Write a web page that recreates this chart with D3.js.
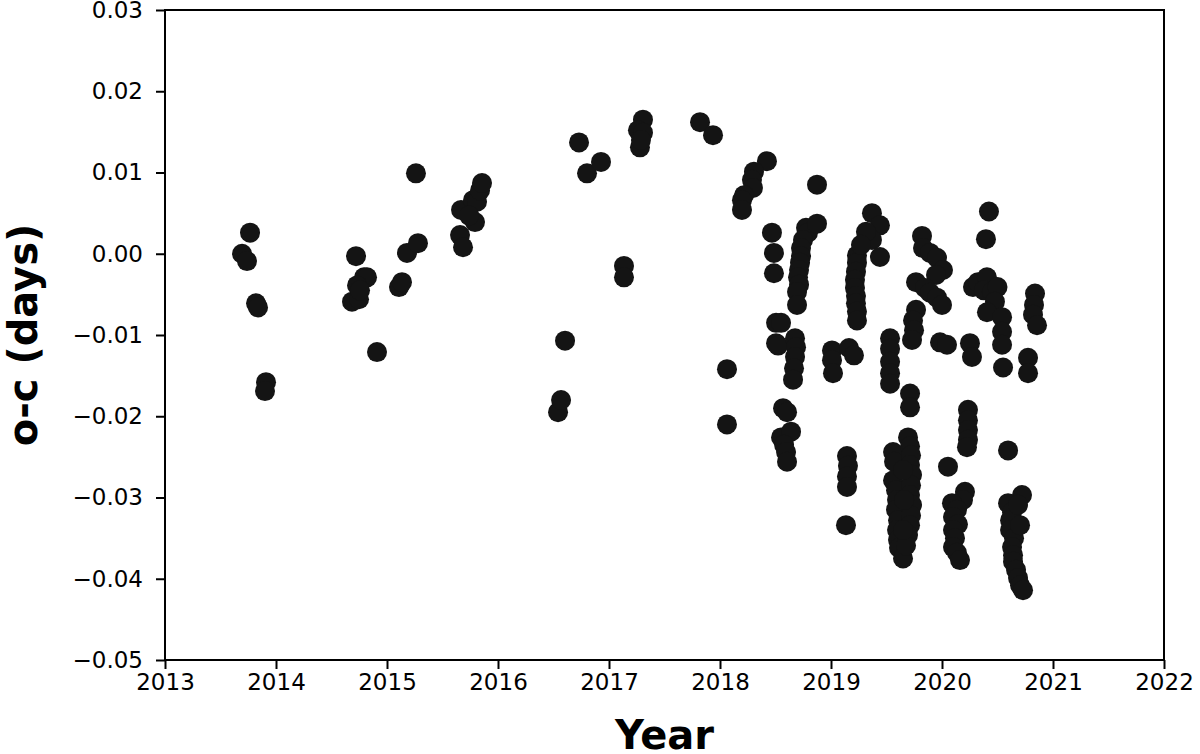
<!DOCTYPE html>
<html>
<head>
<meta charset="utf-8">
<script src="https://cdn.jsdelivr.net/npm/d3@7"></script>
<style>
  html, body { margin: 0; padding: 0; background: #fff; }
  svg { display: block; }
  text { font-family: "DejaVu Sans", sans-serif; }
</style>
</head>
<body>
<svg id="chart" width="1200" height="754"></svg>
<script>
// ---- data (decimal year, O-C in days) ----
const years = [
  2013.694, 2013.739, 2013.766, 2013.820, 2013.838, 2013.910, 2013.901,
  2014.721, 2014.793, 2014.820, 2014.730, 2014.685, 2014.748, 2014.757, 2014.910,
  2015.108, 2015.135, 2015.180, 2015.279, 2015.261,
  2015.667, 2015.775, 2015.811, 2015.838, 2015.856, 2015.793, 2015.658, 2015.685, 2015.740,
  2016.541, 2016.568, 2016.604, 2016.730, 2016.802, 2016.928, 2017.135, 2017.135,
  2017.306, 2017.261, 2017.306, 2017.279, 2017.288, 2017.820, 2017.937,
  2018.423, 2018.306, 2018.288, 2018.297, 2018.216, 2018.198, 2018.198, 2018.063, 2018.063,
  2018.468, 2018.486, 2018.486, 2018.505, 2018.550, 2018.505, 2018.523,
  2018.568, 2018.604, 2018.550, 2018.640, 2018.577, 2018.595, 2018.604,
  2018.775, 2018.793, 2018.748, 2018.730, 2018.730, 2018.721, 2018.712, 2018.703, 2018.712, 2018.694, 2018.694,
  2018.676, 2018.685, 2018.676, 2018.667, 2018.658, 2018.874, 2018.874,
  2019.009, 2019.009, 2019.018, 2019.162, 2019.207,
  2019.144, 2019.153, 2019.144, 2019.144, 2019.135,
  2019.234, 2019.234, 2019.225, 2019.216, 2019.216, 2019.225, 2019.225, 2019.234, 2019.234,
  2019.369, 2019.441, 2019.369, 2019.441, 2019.315, 2019.270,
  2019.532, 2019.532, 2019.532, 2019.532, 2019.532, 2019.712, 2019.712,
  2019.559, 2019.568, 2019.559, 2019.586, 2019.595, 2019.586, 2019.604, 2019.595, 2019.604, 2019.613, 2019.649,
  2019.694, 2019.712, 2019.721, 2019.712, 2019.730, 2019.721, 2019.712, 2019.730, 2019.721, 2019.712, 2019.694, 2019.676,
  2019.649, 2019.658, 2019.649,
  2019.820, 2019.829, 2019.892, 2019.955, 2020.009, 2019.946, 2019.766, 2019.847, 2019.892, 2019.955, 2020.000,
  2019.766, 2019.739, 2019.748, 2019.730, 2019.982, 2020.045,
  2020.252, 2020.270, 2020.234, 2020.234, 2020.234, 2020.234, 2020.225, 2020.054,
  2020.423, 2020.396, 2020.279, 2020.324, 2020.405, 2020.378, 2020.450, 2020.500, 2020.477, 2020.405,
  2020.541, 2020.541, 2020.541, 2020.550,
  2020.207, 2020.189, 2020.090, 2020.135, 2020.099, 2020.144, 2020.099, 2020.117, 2020.099, 2020.135, 2020.162,
  2020.595, 2020.721, 2020.595, 2020.631, 2020.613, 2020.613, 2020.649, 2020.631, 2020.640, 2020.640,
  2020.667, 2020.685, 2020.703, 2020.730, 2020.685, 2020.703,
  2020.838, 2020.829, 2020.820, 2020.856, 2020.775, 2020.775
];
const oc = [
  -0.0000, -0.0009, 0.0026, -0.0061, -0.0066, -0.0158, -0.0169,
  -0.0003, -0.0029, -0.0029, -0.0039, -0.0059, -0.0056, -0.0045, -0.0121,
  -0.0041, -0.0035, 0.0001, 0.0013, 0.0099,
  0.0054, 0.0066, 0.0064, 0.0078, 0.0087, 0.0039, 0.0023, 0.0008, 0.0047,
  -0.0195, -0.0180, -0.0107, 0.0137, 0.0099, 0.0113, -0.0015, -0.0029,
  0.0165, 0.0152, 0.0149, 0.0131, 0.0140, 0.0162, 0.0146,
  0.0114, 0.0101, 0.0091, 0.0081, 0.0072, 0.0066, 0.0054, -0.0142, -0.0210,
  0.0026, 0.0001, -0.0024, -0.0085, -0.0085, -0.0110, -0.0113,
  -0.0190, -0.0195, -0.0226, -0.0219, -0.0235, -0.0244, -0.0256,
  0.0032, 0.0026, 0.0017, 0.0007, -0.0003, -0.0011, -0.0020, -0.0029, -0.0038, -0.0047, -0.0063,
  -0.0104, -0.0115, -0.0127, -0.0141, -0.0155, 0.0085, 0.0037,
  -0.0119, -0.0131, -0.0147, -0.0116, -0.0125,
  -0.0249, -0.0261, -0.0274, -0.0287, -0.0334,
  -0.0002, -0.0011, -0.0022, -0.0032, -0.0042, -0.0052, -0.0061, -0.0071, -0.0082,
  0.0050, 0.0035, 0.0017, -0.0004, 0.0027, 0.0011,
  -0.0104, -0.0117, -0.0133, -0.0147, -0.0160, -0.0172, -0.0189,
  -0.0244, -0.0256, -0.0279, -0.0291, -0.0303, -0.0315, -0.0328, -0.0340, -0.0352, -0.0362, -0.0375,
  -0.0226, -0.0237, -0.0248, -0.0260, -0.0272, -0.0285, -0.0297, -0.0309, -0.0322, -0.0334, -0.0346, -0.0359,
  -0.0266, -0.0303, -0.0340,
  0.0022, 0.0007, 0.0001, -0.0005, -0.0020, -0.0026, -0.0035, -0.0042, -0.0048, -0.0054, -0.0063,
  -0.0069, -0.0082, -0.0094, -0.0106, -0.0109, -0.0112,
  -0.0110, -0.0127, -0.0192, -0.0205, -0.0217, -0.0229, -0.0238, -0.0262,
  0.0052, 0.0018, -0.0041, -0.0035, -0.0029, -0.0045, -0.0047, -0.0041, -0.0059, -0.0072,
  -0.0078, -0.0096, -0.0112, -0.0140,
  -0.0293, -0.0303, -0.0307, -0.0315, -0.0324, -0.0333, -0.0340, -0.0350, -0.0361, -0.0368, -0.0377,
  -0.0242, -0.0297, -0.0307, -0.0318, -0.0328, -0.0340, -0.0350, -0.0361, -0.0371, -0.0379,
  -0.0389, -0.0399, -0.0408, -0.0414, -0.0309, -0.0334,
  -0.0049, -0.0063, -0.0075, -0.0088, -0.0128, -0.0147
];
const xTicks = [2013, 2014, 2015, 2016, 2017, 2018, 2019, 2020, 2021, 2022];
const yTicks = [-0.05, -0.04, -0.03, -0.02, -0.01, 0.00, 0.01, 0.02, 0.03];
const xLabel = "Year";
const yLabel = "o-c (days)";

// ---- layout ----
const svg = d3.select("#chart");
const L = 165, R = 1164, T = 10, B = 660;
const x = d3.scaleLinear().domain([2013, 2022]).range([L, R]);
const y = d3.scaleLinear().domain([-0.05, 0.03]).range([B, T]);
const fmtY = d3.format(".2f");

// points
const pts = years.map((yr, i) => ({ yr, v: oc[i] }));
svg.append("g")
  .selectAll("circle")
  .data(pts)
  .join("circle")
  .attr("cx", d => x(d.yr))
  .attr("cy", d => y(d.v))
  .attr("r", 10)
  .attr("fill", "#141414");

// frame
svg.append("rect")
  .attr("x", L).attr("y", T)
  .attr("width", R - L).attr("height", B - T)
  .attr("fill", "none").attr("stroke", "#000").attr("stroke-width", 2);

// axes
const xAxis = d3.axisBottom(x).tickValues(xTicks).tickFormat(d3.format("d"))
  .tickSizeInner(9).tickSizeOuter(0).tickPadding(5);
const gx = svg.append("g").attr("transform", `translate(0,${B})`).call(xAxis);
const yAxis = d3.axisLeft(y).tickValues(yTicks).tickFormat(fmtY)
  .tickSizeInner(9).tickSizeOuter(0).tickPadding(13);
const gy = svg.append("g").attr("transform", `translate(${L},0)`).call(yAxis);

[gx, gy].forEach(g => {
  g.select(".domain").remove();
  g.selectAll(".tick line").attr("stroke", "#000").attr("stroke-width", 2);
  g.selectAll(".tick text").attr("fill", "#000").style("font-size", "23px")
    .style("font-family", "'DejaVu Sans', sans-serif");
});

// axis labels
svg.append("text")
  .attr("x", (L + R) / 2).attr("y", 749)
  .attr("text-anchor", "middle")
  .style("font-size", "40px").style("font-weight", "bold")
  .attr("fill", "#000")
  .text(xLabel);

svg.append("text")
  .attr("transform", `translate(37,${(T + B) / 2}) rotate(-90)`)
  .attr("text-anchor", "middle")
  .style("font-size", "40px").style("font-weight", "bold")
  .attr("fill", "#000")
  .text(yLabel);
</script>
</body>
</html>
